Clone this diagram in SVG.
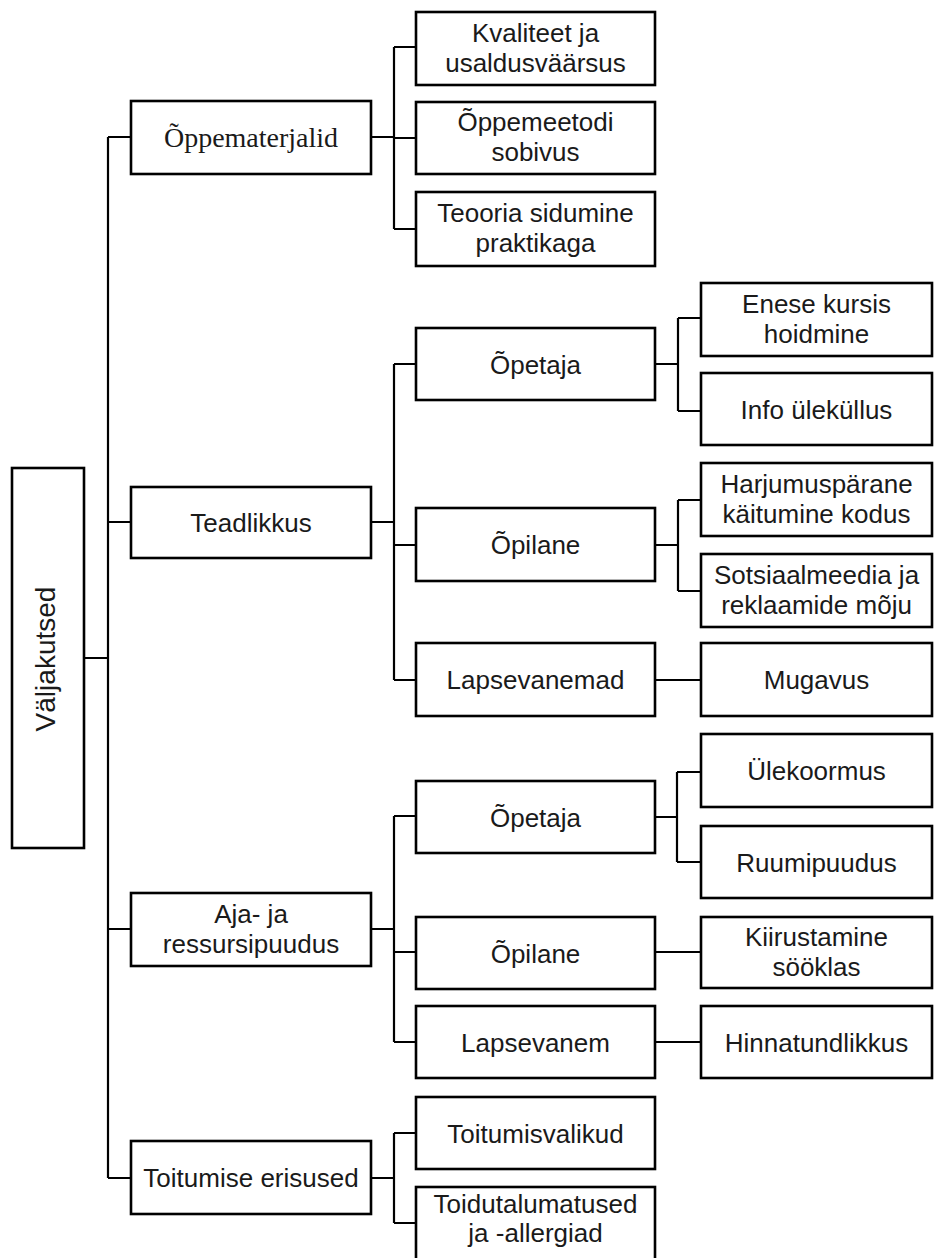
<svg xmlns="http://www.w3.org/2000/svg" width="935" height="1258" viewBox="0 0 935 1258">
<style>
.box{fill:#fff;stroke:#000;stroke-width:2.6}
.t{font-family:"Liberation Sans",Arial,sans-serif;font-size:26px;fill:#1a1a1a;text-anchor:middle}
.s{font-family:"Liberation Serif","Times New Roman",serif;font-size:28px;fill:#1a1a1a;text-anchor:middle}
#connectors path{fill:none;stroke:#000;stroke-width:2.2}
</style>
<rect width="935" height="1258" fill="#fff"/>
<g id="connectors">
<path d="M84 658H108M108 137V1178M108 137H131M108 522H131M108 929H131M108 1178H131"/>
<path d="M371 137H394M394 47V229M394 47H416M394 138H416M394 229H416"/>
<path d="M371 522H394M394 364V680M394 364H416M394 545H416M394 680H416"/>
<path d="M655 364H678M678 318V411M678 318H701M678 411H701"/>
<path d="M655 545H678M678 500V591M678 500H701M678 591H701"/>
<path d="M655 680H701"/>
<path d="M371 929H394M394 816V1042M394 816H416M394 952H416M394 1042H416"/>
<path d="M655 817H677M677 772V862M677 772H701M677 862H701"/>
<path d="M655 952H701M655 1042H701"/>
<path d="M371 1178H394M394 1133V1223M394 1133H416M394 1223H416"/>
</g>
<g id="n-valjakutsed"><rect class="box" x="12" y="468" width="72" height="380"/><text class="t" transform="translate(55 659) rotate(-90)" style="font-size:28px">Väljakutsed</text></g>
<g id="n-oppematerjalid"><rect class="box" x="131" y="101" width="240" height="73"/><text class="s" x="251" y="147">Õppematerjalid</text></g>
<g id="n-kvaliteet"><rect class="box" x="416" y="12" width="239" height="73"/><text class="t" x="535.5" y="42">Kvaliteet ja</text><text class="t" x="535.5" y="72">usaldusväärsus</text></g>
<g id="n-oppemeetodi"><rect class="box" x="416" y="102" width="239" height="72"/><text class="t" x="535.5" y="131">Õppemeetodi</text><text class="t" x="535.5" y="161">sobivus</text></g>
<g id="n-teooria"><rect class="box" x="416" y="192" width="239" height="74"/><text class="t" x="535.5" y="222">Teooria sidumine</text><text class="t" x="535.5" y="252">praktikaga</text></g>
<g id="n-teadlikkus"><rect class="box" x="131" y="487" width="240" height="71"/><text class="t" x="251" y="532">Teadlikkus</text></g>
<g id="n-opetaja1"><rect class="box" x="416" y="328" width="239" height="72"/><text class="t" x="535.5" y="373.5">Õpetaja</text></g>
<g id="n-enese"><rect class="box" x="701" y="283" width="231" height="73"/><text class="t" x="816.5" y="313">Enese kursis</text><text class="t" x="816.5" y="343">hoidmine</text></g>
<g id="n-info"><rect class="box" x="701" y="373" width="231" height="72"/><text class="t" x="816.5" y="418.5">Info üleküllus</text></g>
<g id="n-opilane1"><rect class="box" x="416" y="508" width="239" height="73"/><text class="t" x="535.5" y="554">Õpilane</text></g>
<g id="n-harjumus"><rect class="box" x="701" y="463" width="231" height="73"/><text class="t" x="816.5" y="493">Harjumuspärane</text><text class="t" x="816.5" y="523">käitumine kodus</text></g>
<g id="n-sotsiaal"><rect class="box" x="701" y="554" width="231" height="73"/><text class="t" x="816.5" y="584">Sotsiaalmeedia ja</text><text class="t" x="816.5" y="614">reklaamide mõju</text></g>
<g id="n-lapsevanemad"><rect class="box" x="416" y="643" width="239" height="73"/><text class="t" x="535.5" y="689">Lapsevanemad</text></g>
<g id="n-mugavus"><rect class="box" x="701" y="643" width="231" height="73"/><text class="t" x="816.5" y="689">Mugavus</text></g>
<g id="n-aja"><rect class="box" x="131" y="893" width="240" height="73"/><text class="t" x="251" y="923">Aja- ja</text><text class="t" x="251" y="953">ressursipuudus</text></g>
<g id="n-opetaja2"><rect class="box" x="416" y="781" width="239" height="72"/><text class="t" x="535.5" y="826.5">Õpetaja</text></g>
<g id="n-ulekoormus"><rect class="box" x="701" y="734" width="231" height="73"/><text class="t" x="816.5" y="780">Ülekoormus</text></g>
<g id="n-ruumipuudus"><rect class="box" x="701" y="826" width="231" height="72"/><text class="t" x="816.5" y="871.5">Ruumipuudus</text></g>
<g id="n-opilane2"><rect class="box" x="416" y="917" width="239" height="72"/><text class="t" x="535.5" y="962.5">Õpilane</text></g>
<g id="n-kiirustamine"><rect class="box" x="701" y="917" width="231" height="71"/><text class="t" x="816.5" y="946">Kiirustamine</text><text class="t" x="816.5" y="976">sööklas</text></g>
<g id="n-lapsevanem"><rect class="box" x="416" y="1006" width="239" height="72"/><text class="t" x="535.5" y="1051.5">Lapsevanem</text></g>
<g id="n-hinnatundlikkus"><rect class="box" x="701" y="1006" width="231" height="72"/><text class="t" x="816.5" y="1051.5">Hinnatundlikkus</text></g>
<g id="n-toitumise"><rect class="box" x="131" y="1141" width="240" height="73"/><text class="t" x="251" y="1187">Toitumise erisused</text></g>
<g id="n-toitumisvalikud"><rect class="box" x="416" y="1097" width="239" height="72"/><text class="t" x="535.5" y="1142.5">Toitumisvalikud</text></g>
<g id="n-toidutalumatused"><rect class="box" x="416" y="1187" width="239" height="80"/><text class="t" x="535.5" y="1213">Toidutalumatused</text><text class="t" x="535.5" y="1242">ja -allergiad</text></g>
</svg>
